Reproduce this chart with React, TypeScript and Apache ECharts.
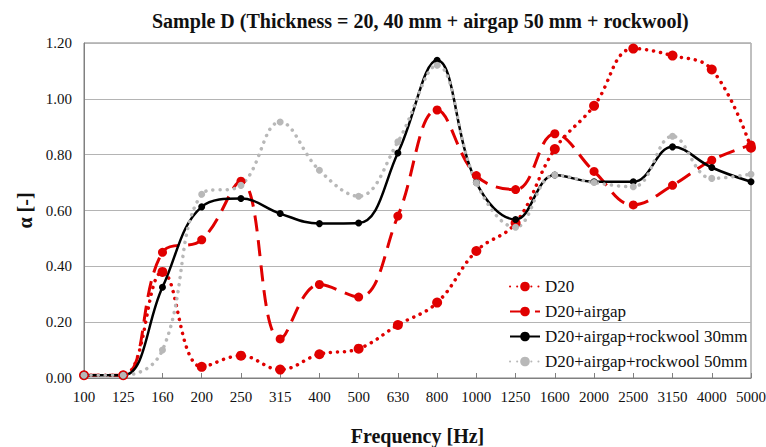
import React, { useEffect, useRef } from "react";
import * as echarts from "echarts";

const categories = ["100", "125", "160", "200", "250", "315", "400", "500", "630", "800", "1000", "1250", "1600", "2000", "2500", "3150", "4000", "5000"];
const d20 = [0.01, 0.01, 0.38, 0.04, 0.08, 0.03, 0.085, 0.105, 0.19, 0.27, 0.455, 0.555, 0.82, 0.975, 1.18, 1.155, 1.105, 0.825];
const d20Airgap = [0.01, 0.01, 0.45, 0.495, 0.705, 0.14, 0.335, 0.29, 0.58, 0.96, 0.725, 0.675, 0.875, 0.74, 0.62, 0.69, 0.78, 0.835];
const d20Rock30 = [0.01, 0.01, 0.325, 0.613, 0.643, 0.589, 0.553, 0.555, 0.806, 1.138, 0.7, 0.568, 0.727, 0.703, 0.703, 0.828, 0.754, 0.703];
const d20Rock50 = [0.01, 0.01, 0.1, 0.658, 0.69, 0.917, 0.744, 0.651, 0.846, 1.12, 0.699, 0.54, 0.727, 0.7, 0.685, 0.866, 0.715, 0.73];
const yTicks = { min: 0, max: 1.2, interval: 0.2 };

const SERIF = "'Liberation Serif', 'DejaVu Serif', serif";

export default function App() {
  const ref = useRef<HTMLDivElement>(null);
  useEffect(() => {
    document.body.style.margin = "0";
    const chart = echarts.init(ref.current!, null, { renderer: "svg" });
    chart.setOption({
      animation: false,
      backgroundColor: "#ffffff",
      textStyle: { fontFamily: SERIF },
      title: {
        text: "Sample D (Thickness = 20, 40 mm + airgap 50 mm + rockwool)",
        left: 147,
        top: 6,
        textStyle: { fontFamily: SERIF, fontSize: 20, fontWeight: "bold", color: "#111" },
      },
      grid: {
        left: 84,
        right: 15,
        top: 43,
        bottom: 69,
        outerBoundsMode: "none",
        containLabel: false,
        show: true,
        borderColor: "#808080",
        borderWidth: 1,
      },
      legend: {
        orient: "vertical",
        left: 504,
        top: 273,
        itemWidth: 30,
        itemHeight: 12,
        itemGap: 8,
        textStyle: { fontFamily: SERIF, fontSize: 17, color: "#111" },
        data: ["D20", "D20+airgap", "D20+airgap+rockwool 30mm", "D20+airgap+rockwool 50mm"],
      },
      xAxis: {
        type: "category",
        data: categories,
        boundaryGap: false,
        name: "Frequency [Hz]",
        nameLocation: "middle",
        nameGap: 48,
        nameTextStyle: { fontFamily: SERIF, fontSize: 20, fontWeight: "bold", color: "#111" },
        axisLine: { lineStyle: { color: "#808080", width: 1 } },
        axisTick: { show: true, inside: true, length: 5, lineStyle: { color: "#808080" }, alignWithLabel: true },
        axisLabel: { fontFamily: SERIF, fontSize: 15, color: "#111", margin: 11, interval: 0 },
        splitLine: { show: false },
      },
      yAxis: {
        type: "value",
        min: yTicks.min,
        max: yTicks.max,
        interval: yTicks.interval,
        name: "α [-]",
        nameLocation: "middle",
        nameGap: 48,
        nameTextStyle: { fontFamily: SERIF, fontSize: 20, fontWeight: "bold", color: "#111" },
        axisLine: { show: true, lineStyle: { color: "#808080", width: 1 } },
        axisTick: { show: false },
        axisLabel: {
          fontFamily: SERIF,
          fontSize: 15,
          color: "#111",
          margin: 12,
          formatter: (v: number) => v.toFixed(2),
        },
        splitLine: { show: true, lineStyle: { color: "#b4b4b4", width: 1 } },
      },
      series: [
        {
          name: "D20",
          type: "line",
          data: d20,
          smooth: 0.4,
          symbol: "circle",
          symbolSize: 10,
          itemStyle: { color: "#e00000" },
          lineStyle: { color: "#e00000", width: 3.5, type: [0.1, 7], cap: "round" },
        },
        {
          name: "D20+airgap",
          type: "line",
          data: d20Airgap,
          smooth: 0.4,
          symbol: "circle",
          symbolSize: 9,
          itemStyle: { color: "#e00000" },
          lineStyle: { color: "#e00000", width: 3, type: [16, 9] },
        },
        {
          name: "D20+airgap+rockwool 30mm",
          type: "line",
          data: d20Rock30,
          smooth: 0.4,
          symbol: "circle",
          symbolSize: 7,
          itemStyle: { color: "#000000" },
          lineStyle: { color: "#000000", width: 2.5 },
        },
        {
          name: "D20+airgap+rockwool 50mm",
          type: "line",
          data: d20Rock50,
          smooth: 0.4,
          symbol: "circle",
          symbolSize: 7,
          itemStyle: { color: "#b8b8b8" },
          lineStyle: { color: "#b8b8b8", width: 3.5, type: [0.1, 7], cap: "round" },
        },
      ],
    });
    return () => chart.dispose();
  }, []);
  return <div ref={ref} style={{ width: 766, height: 447 }} />;
}
